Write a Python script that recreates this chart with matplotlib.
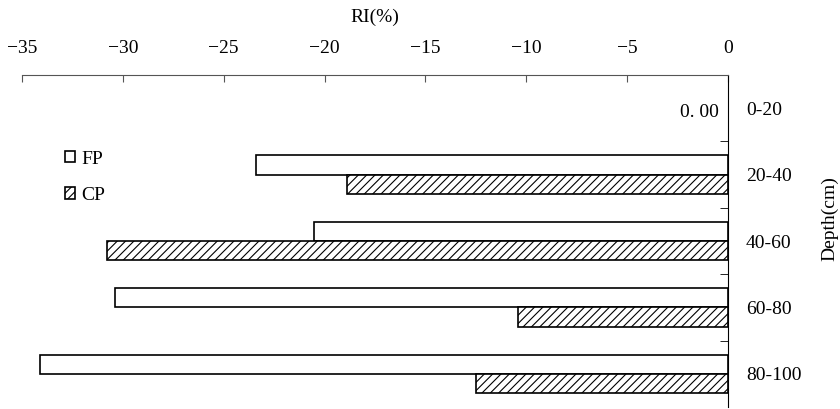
import numpy as np
import matplotlib.pyplot as plt
from matplotlib.patches import Patch

depths = ["0-20", "20-40", "40-60", "60-80", "80-100"]
fp = [0.0, -23.4, -20.5, -30.4, -34.1]
cp = [0.0, -18.9, -30.8, -10.4, -12.5]
xticks = [-35, -30, -25, -20, -15, -10, -5, 0]

plt.rcParams['font.family'] = ['Liberation Serif', 'DejaVu Serif']
plt.rcParams['hatch.linewidth'] = 0.8
fs = 14

fig = plt.figure(figsize=(8.4, 4.09), dpi=100)
ax = fig.add_axes([22/840, 1 - 407/409, (728-22)/840, (407-75)/409])

y = np.arange(len(depths))
h = 0.29
# zero-valued bars get no outline so the axis line stays thin
lw_fp = [0 if v == 0 else 1.2 for v in fp]
lw_cp = [0 if v == 0 else 1.2 for v in cp]
ax.barh(y - h/2, fp, height=h, color='white', edgecolor='black', linewidth=lw_fp)
ax.barh(y + h/2, cp, height=h, color='white', edgecolor='black', linewidth=lw_cp, hatch='////')

ax.text(-0.45, 0.07, "0. 00", ha='right', va='center', fontsize=fs)

ax.set_xlim(-35, 0)
ax.set_ylim(4.5, -0.5)
ax.xaxis.tick_top()
ax.xaxis.set_label_position('top')
ax.set_xticks(xticks)
ax.set_xticklabels([str(v).replace('-', '\u2212') for v in xticks], fontsize=fs)
ax.tick_params(axis='x', direction='in', length=5, pad=13, color='#555555')
ax.set_xlabel("RI(%)", fontsize=fs, labelpad=13)

ax.yaxis.tick_right()
ax.set_yticks(y)
ax.set_yticklabels(depths, fontsize=fs)
ax.set_yticks(y[:-1] + 0.5, minor=True)
ax.tick_params(axis='y', which='major', length=0, pad=13)
ax.tick_params(axis='y', which='minor', direction='in', length=6, right=True)

for s in ['left', 'bottom']:
    ax.spines[s].set_visible(False)
ax.spines['top'].set_color('#555555')
ax.spines['right'].set_color('black')

fig.text(830/840, 1 - 219/409, "Depth(cm)", rotation=90, ha='center', va='center', fontsize=fs)

handles = [Patch(facecolor='white', edgecolor='black', linewidth=1.2, label='FP'),
           Patch(facecolor='white', edgecolor='black', linewidth=1.2, hatch='////', label='CP')]
ax.legend(handles=handles, loc='upper left', bbox_to_anchor=(47/840, 1 - 133/409),
          bbox_transform=fig.transFigure, frameon=False, fontsize=fs,
          handlelength=0.55, handleheight=0.55, handletextpad=0.3, labelspacing=1.0)

fig.savefig("out.png", dpi=100)
